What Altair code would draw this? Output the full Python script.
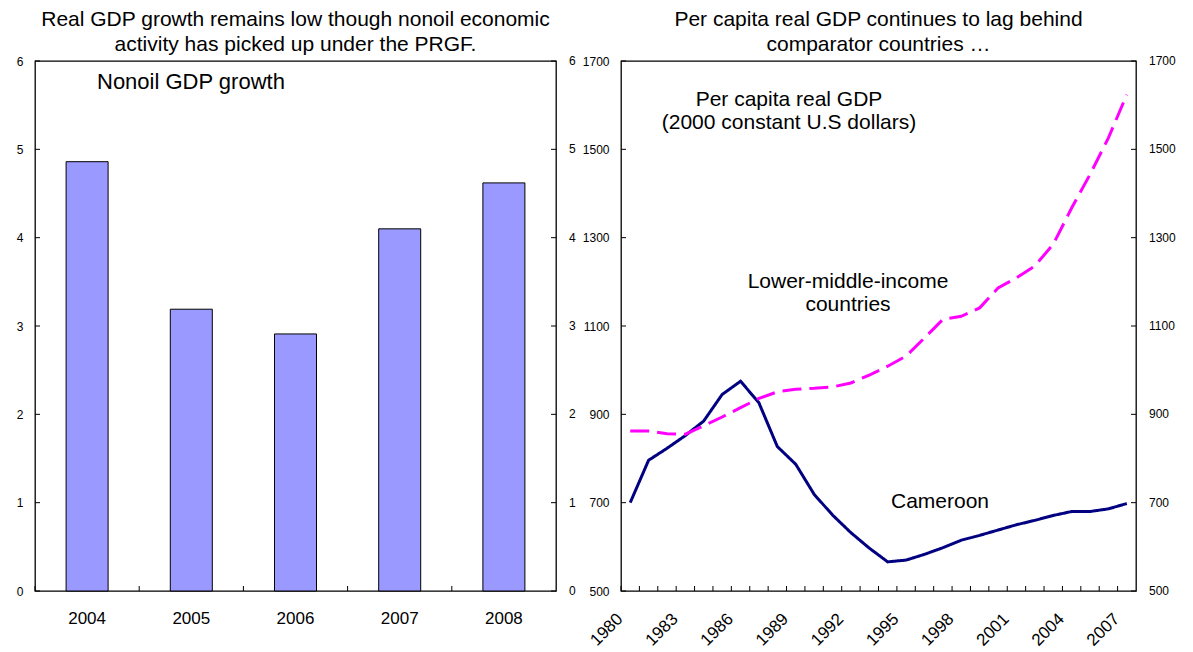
import altair as alt
import pandas as pd

FONT = "Liberation Sans"

# ---------------- data ----------------
bar_years = ["2004", "2005", "2006", "2007", "2008"]
nonoil_growth = [4.86, 3.19, 2.91, 4.10, 4.62]
growth_ticks = [0, 1, 2, 3, 4, 5, 6]

years = list(range(1980, 2008))
cameroon = [700, 796, 823, 852, 885, 945, 975, 926, 827, 787, 719, 672, 632, 597,
            566, 570, 583, 598, 615, 626, 638, 650, 660, 671, 680, 680, 686, 698]
lower_middle = [862, 862, 856, 855, 874, 894, 915, 936, 951, 957, 959, 962, 971, 989,
                1009, 1032, 1073, 1115, 1122, 1141, 1186, 1209, 1236, 1285, 1367, 1443, 1526, 1624]
gdp_ticks = [500, 700, 900, 1100, 1300, 1500, 1700]
year_labels = [1980, 1983, 1986, 1989, 1992, 1995, 1998, 2001, 2004, 2007]
series_names = ["Cameroon", "Lower-middle-income countries"]
series_colors = ["#000080", "#FF00FF"]

left_title = ["Real GDP growth remains low though nonoil economic",
              "activity has picked up under the PRGF."]
right_title = ["Per capita real GDP continues to lag behind",
               "comparator countries \u2026"]
left_note = "Nonoil GDP growth"
right_note = "Per capita real GDP\n(2000 constant U.S dollars)"
lmi_note = "Lower-middle-income\ncountries"
cam_note = "Cameroon"

# ---------------- layout ----------------
LW, RW, H = 521, 515, 530


def y_axis(values):
    return alt.Axis(orient="left", values=values, title=None, labelFontSize=12,
                    labelPadding=12, ticks=False, tickSize=0, domain=False,
                    grid=False, minExtent=26, labelFont=FONT, labelColor="black",
                    format="d")


def y_tick_layers(values, yscale, W):
    df = pd.DataFrame({"v": values})
    ax = y_axis(values)
    left_t = alt.Chart(df).mark_rule(color="black", strokeWidth=1).encode(
        y=alt.Y("v:Q", scale=yscale, axis=ax), x=alt.value(0), x2=alt.value(5))
    right_t = alt.Chart(df).mark_rule(color="black", strokeWidth=1).encode(
        y=alt.Y("v:Q", scale=yscale, axis=ax), x=alt.value(W - 5), x2=alt.value(W))
    right_lab = alt.Chart(df).mark_text(
        font=FONT, fontSize=12, color="black", align="left", baseline="middle"
    ).encode(y=alt.Y("v:Q", scale=yscale, axis=ax), text="v:Q", x=alt.value(W + 13))
    return [left_t, right_t, right_lab]


def text_layer(txt, x, y, size, align="center", line_height=24):
    return alt.Chart(pd.DataFrame({"t": [txt]})).mark_text(
        font=FONT, fontSize=size, color="black", align=align, baseline="middle",
        lineBreak="\n", lineHeight=line_height
    ).encode(text="t:N", x=alt.value(x), y=alt.value(y))


def title(lines):
    return alt.TitleParams(text=lines, font=FONT, fontSize=21, fontWeight="normal",
                           color="black", lineHeight=25, anchor="middle",
                           frame="group", offset=0)


# ---------------- left panel ----------------
bar_df = pd.DataFrame({"year": bar_years, "growth": nonoil_growth})
gy_scale = alt.Scale(domain=[0, 6], nice=False, zero=False)
bx_scale = alt.Scale(type="band", paddingInner=0, paddingOuter=0, domain=bar_years)
bx_axis = alt.Axis(title=None, labelAngle=0, labelFontSize=17, labelPadding=19,
                   ticks=False, tickSize=0, domain=False, labelFont=FONT,
                   labelColor="black")

bars = alt.Chart(bar_df).mark_bar(
    color="#9999FF", stroke="black", strokeWidth=1, size=42
).encode(
    x=alt.X("year:O", scale=bx_scale, axis=bx_axis),
    y=alt.Y("growth:Q", scale=gy_scale, axis=y_axis(growth_ticks)),
)
bar_xticks = alt.Chart(bar_df).mark_rule(color="black", strokeWidth=1).encode(
    x=alt.X("year:O", scale=bx_scale, axis=bx_axis, bandPosition=0),
    y=alt.value(H - 5), y2=alt.value(H),
)

left = alt.layer(
    bars, bar_xticks,
    *y_tick_layers(growth_ticks, gy_scale, LW),
    text_layer(left_note, 62, 21, 22, align="left"),
).properties(width=LW, height=H, title=title(left_title))

# ---------------- right panel ----------------
line_df = pd.DataFrame({
    "year": years * 2,
    "value": cameroon + lower_middle,
    "series": [series_names[0]] * len(years) + [series_names[1]] * len(years),
})
vy_scale = alt.Scale(domain=[500, 1700], nice=False, zero=False)
rx_scale = alt.Scale(type="band", paddingInner=0, paddingOuter=0, domain=years)
rx_axis = alt.Axis(title=None, values=year_labels, labelAngle=-45, labelFontSize=17,
                   labelAlign="right", labelBaseline="middle", labelOffset=-10,
                   labelPadding=25, ticks=False, tickSize=0, domain=False,
                   labelFont=FONT, labelColor="black")

lines = alt.Chart(line_df).mark_line(strokeWidth=3).encode(
    x=alt.X("year:O", scale=rx_scale, axis=rx_axis, bandPosition=0.5),
    y=alt.Y("value:Q", scale=vy_scale, axis=y_axis(gdp_ticks)),
    color=alt.Color("series:N", scale=alt.Scale(domain=series_names, range=series_colors), legend=None),
    strokeDash=alt.StrokeDash("series:N", scale=alt.Scale(domain=series_names, range=[[1, 0], [19, 8]]), legend=None),
)
year_df = pd.DataFrame({"year": years})
line_xticks = alt.Chart(year_df).mark_rule(color="black", strokeWidth=1).encode(
    x=alt.X("year:O", scale=rx_scale, axis=rx_axis, bandPosition=0),
    y=alt.value(H - 5), y2=alt.value(H),
)

right = alt.layer(
    lines, line_xticks,
    *y_tick_layers(gdp_ticks, vy_scale, RW),
    text_layer(right_note, 168, 39, 21, line_height=23),
    text_layer(lmi_note, 227, 221, 21, line_height=23),
    text_layer(cam_note, 319, 441, 21),
).properties(width=RW, height=H, title=title(right_title))

chart = alt.hconcat(left, right, spacing=4).properties(
    padding={"left": 0, "top": 0, "right": 0, "bottom": 0}
).configure_view(stroke="black", strokeWidth=1.3).configure_axis(grid=False)

chart.save("out.html", embed_options={"renderer": "svg", "actions": False})
